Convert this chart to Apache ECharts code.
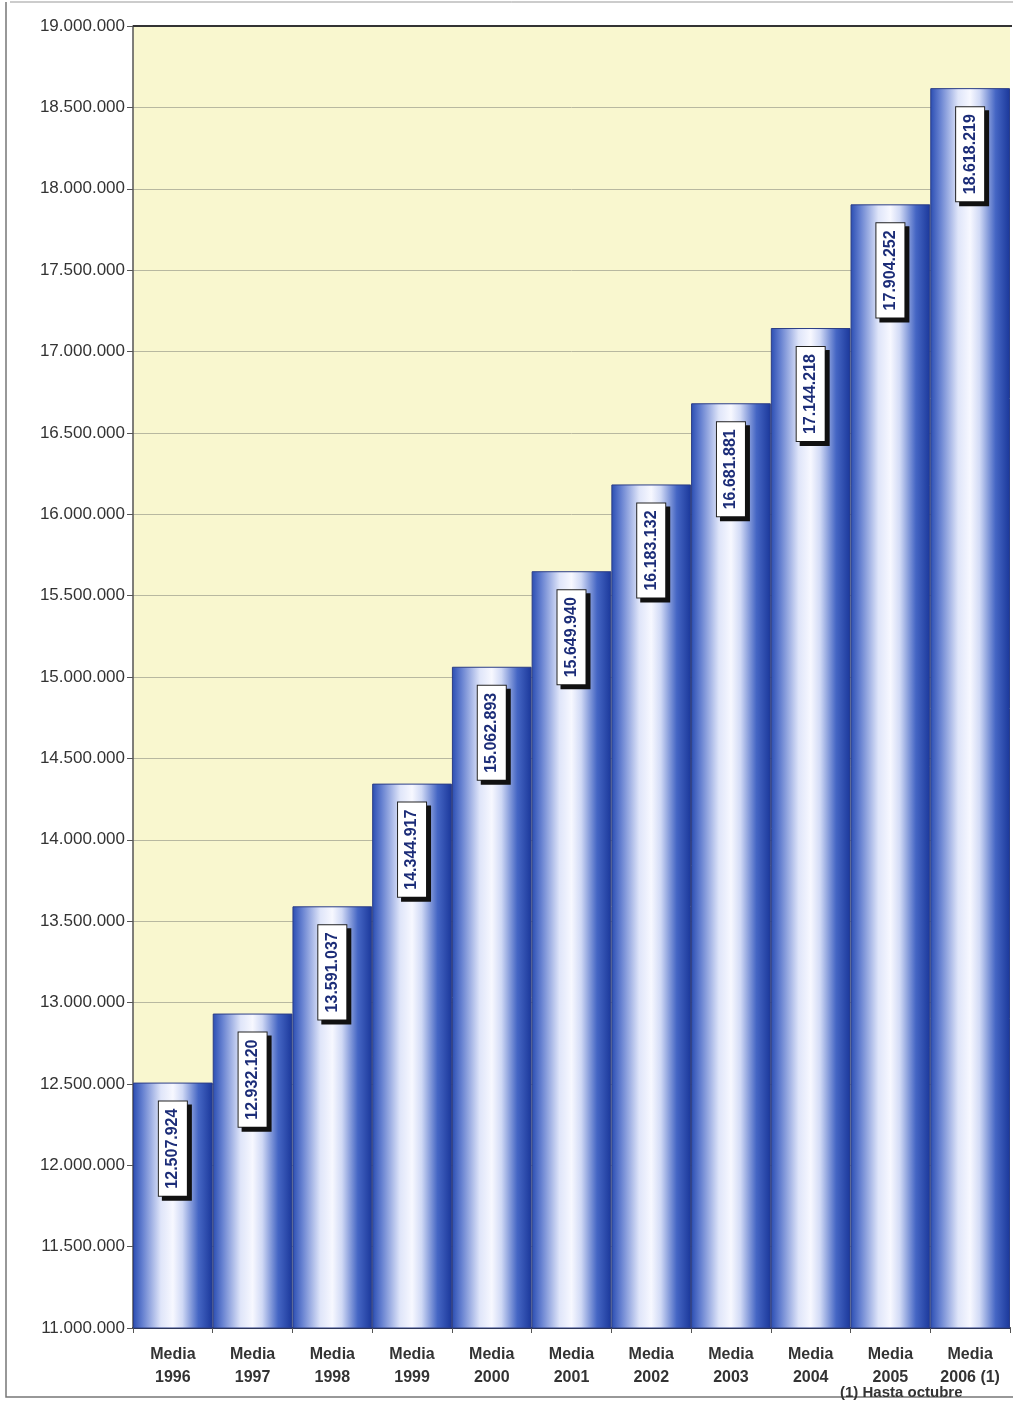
<!DOCTYPE html>
<html>
<head>
<meta charset="utf-8">
<script src="https://cdn.jsdelivr.net/npm/echarts@6/dist/echarts.min.js"></script>
<style>html,body{margin:0;padding:0;background:#fff;}#c{width:1015px;height:1405px;}</style>
</head>
<body>
<div id="c"></div>
<script>
const categories = ['Media\n1996','Media\n1997','Media\n1998','Media\n1999','Media\n2000','Media\n2001','Media\n2002','Media\n2003','Media\n2004','Media\n2005','Media\n2006 (1)'];
const values = [12507924, 12932120, 13591037, 14344917, 15062893, 15649940, 16183132, 16681881, 17144218, 17904252, 18618219];
const yMin = 11000000, yMax = 19000000, yStep = 500000;
const footnote = '(1) Hasta octubre';

function fmt(v){ return String(Math.round(v)).replace(/\B(?=(\d{3})+(?!\d))/g, '.'); }

const chart = echarts.init(document.getElementById('c'));
const font = 'Liberation Sans, Arial, sans-serif';
chart.setOption({
  backgroundColor: '#ffffff',
  animation: false,
  grid: { left: 133, right: 5, top: 26, bottom: 77, show: true, backgroundColor: '#f9f7cf', borderColor: '#444', borderWidth: 0 },
  xAxis: {
    type: 'category', data: categories,
    axisLine: { lineStyle: { color: '#333', width: 2 } },
    axisTick: { show: true, length: 5, lineStyle: { color: '#555' } },
    axisLabel: { color: '#333', fontFamily: font, fontWeight: 'bold', fontSize: 16, lineHeight: 23, margin: 15 }
  },
  yAxis: {
    type: 'value', min: yMin, max: yMax, interval: yStep,
    axisLine: { show: true, lineStyle: { color: '#555', width: 1.5 } },
    axisTick: { show: true, length: 6, lineStyle: { color: '#555' } },
    splitLine: { lineStyle: { color: '#b8b8a0', width: 1 } },
    axisLabel: { color: '#333', fontFamily: font, fontSize: 17, margin: 8, formatter: fmt }
  },
  graphic: [
    { type: 'line', shape: { x1: 133, y1: 26, x2: 1012, y2: 26 }, style: { stroke: '#333', lineWidth: 2 }, z: 10 },
    { type: 'polyline', shape: { points: [[6, 2], [6, 1397], [1013, 1397]] }, style: { stroke: '#777', lineWidth: 1.5, fill: null } },
    { type: 'line', shape: { x1: 10, y1: 2, x2: 1013, y2: 2 }, style: { stroke: '#999', lineWidth: 1 } },
    { type: 'text', left: 840, top: 1385, style: { text: footnote, font: 'bold 15px ' + font, fill: '#333' } }
  ],
  series: [{
    type: 'bar', data: values, barCategoryGap: '0%',
    itemStyle: {
      borderColor: '#2b3d86', borderWidth: 1,
      color: { type: 'linear', x: 0, y: 0, x2: 1, y2: 0, colorStops: [
        { offset: 0, color: '#2a4db2' },
        { offset: 0.12, color: '#6580d0' },
        { offset: 0.35, color: '#dfe5f9' },
        { offset: 0.5, color: '#f7f8ff' },
        { offset: 0.62, color: '#d0d9f5' },
        { offset: 0.82, color: '#4566c4' },
        { offset: 1, color: '#1a379a' }
      ]}
    },
    label: {
      show: true, position: 'insideTop', rotate: 90, distance: 16,
      align: 'right', verticalAlign: 'middle', offset: [-3, 0],
      formatter: p => fmt(p.value),
      color: '#1c2d78', fontFamily: font, fontWeight: 'bold', fontSize: 16,
      backgroundColor: '#ffffff', borderColor: '#222', borderWidth: 1,
      padding: [6, 7, 6, 7],
      shadowColor: '#111', shadowBlur: 0, shadowOffsetX: 4, shadowOffsetY: 4
    }
  }]
});
</script>
</body>
</html>
